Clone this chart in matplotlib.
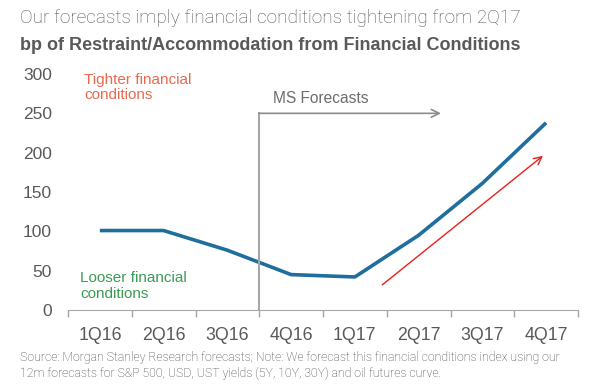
import matplotlib
matplotlib.use("Agg")
import matplotlib.pyplot as plt
import numpy as np

categories = ["1Q16", "2Q16", "3Q16", "4Q16", "1Q17", "2Q17", "3Q17", "4Q17"]
values = [101, 101, 76, 45, 42, 95, 161, 238]
yticks = [0, 50, 100, 150, 200, 250, 300]

fig = plt.figure(figsize=(5.93, 3.87), dpi=100)
ax = fig.add_axes([68/593, 1-310/387, (578-68)/593, (310-74)/387])

x = np.arange(len(categories))
ax.plot(x, values, color="#1f6e9e", lw=2.6, solid_capstyle="butt")

ax.set_xlim(-0.5, len(categories) - 0.5)
ax.set_ylim(0, 300)
ax.set_yticks(yticks)
ax.set_yticklabels([str(v) for v in yticks], fontsize=12.5, color="#595959", family="Liberation Sans")
ax.set_xticks(x)
ax.set_xticklabels(categories, fontsize=12.8, color="#595959", family="Liberation Sans")
ax.tick_params(axis="x", which="major", length=0, pad=12.5)
ax.tick_params(axis="y", length=0, pad=11.5)
ax.set_xticks(np.arange(-0.5, len(categories)), minor=True)
ax.tick_params(axis="x", which="minor", length=5, color="#a6a6a6", width=1)
for s in ["top", "right", "left"]:
    ax.spines[s].set_visible(False)
ax.spines["bottom"].set_color("#a6a6a6")

# forecast marker
gray = "#8c8c8c"
ax.plot([2.5, 2.5], [0, 250], color="#a6a6a6", lw=1.5)
ax.annotate("", xy=(5.35, 250), xytext=(2.5, 250),
            arrowprops=dict(arrowstyle="->", color=gray, lw=1.2, shrinkA=0, shrinkB=0,
                            mutation_scale=14))
ax.text(2.72, 269, "MS Forecasts", fontsize=11.2, color="#6d6d6d", family="Liberation Sans", va="center")

# red trend arrow
ax.annotate("", xy=(6.95, 196), xytext=(4.43, 32),
            arrowprops=dict(arrowstyle="->", color="#e8201c", lw=1.0, shrinkA=0, shrinkB=0,
                            mutation_scale=14))

ax.text(-0.25, 301, "Tighter financial\nconditions", fontsize=11, color="#e8694f",
        family="Liberation Sans", va="top", linespacing=1.1)
ax.text(-0.31, 49, "Looser financial\nconditions", fontsize=11, color="#3c9a54",
        family="Liberation Sans", va="top", linespacing=1.12)

fig.text(20/593, 1-18/387, "Our forecasts imply financial conditions tightening from 2Q17",
         fontsize=13.7, color="#555555", family="Roboto", fontweight="light", va="center")
fig.text(20/593, 1-46/387, "bp of Restraint/Accommodation from Financial Conditions",
         fontsize=13, color="#595959", family="Liberation Sans", fontweight="bold", va="center")
fig.text(20/593, 1-357/387, "Source: Morgan Stanley Research forecasts; Note: We forecast this financial conditions index using our",
         fontsize=8.85, color="#404040", family="Roboto", fontweight="light", va="center")
fig.text(20/593, 1-373/387, "12m forecasts for S&P 500, USD, UST yields (5Y, 10Y, 30Y) and oil futures curve.",
         fontsize=8.85, color="#404040", family="Roboto", fontweight="light", va="center")

fig.savefig("out.png", dpi=100)
